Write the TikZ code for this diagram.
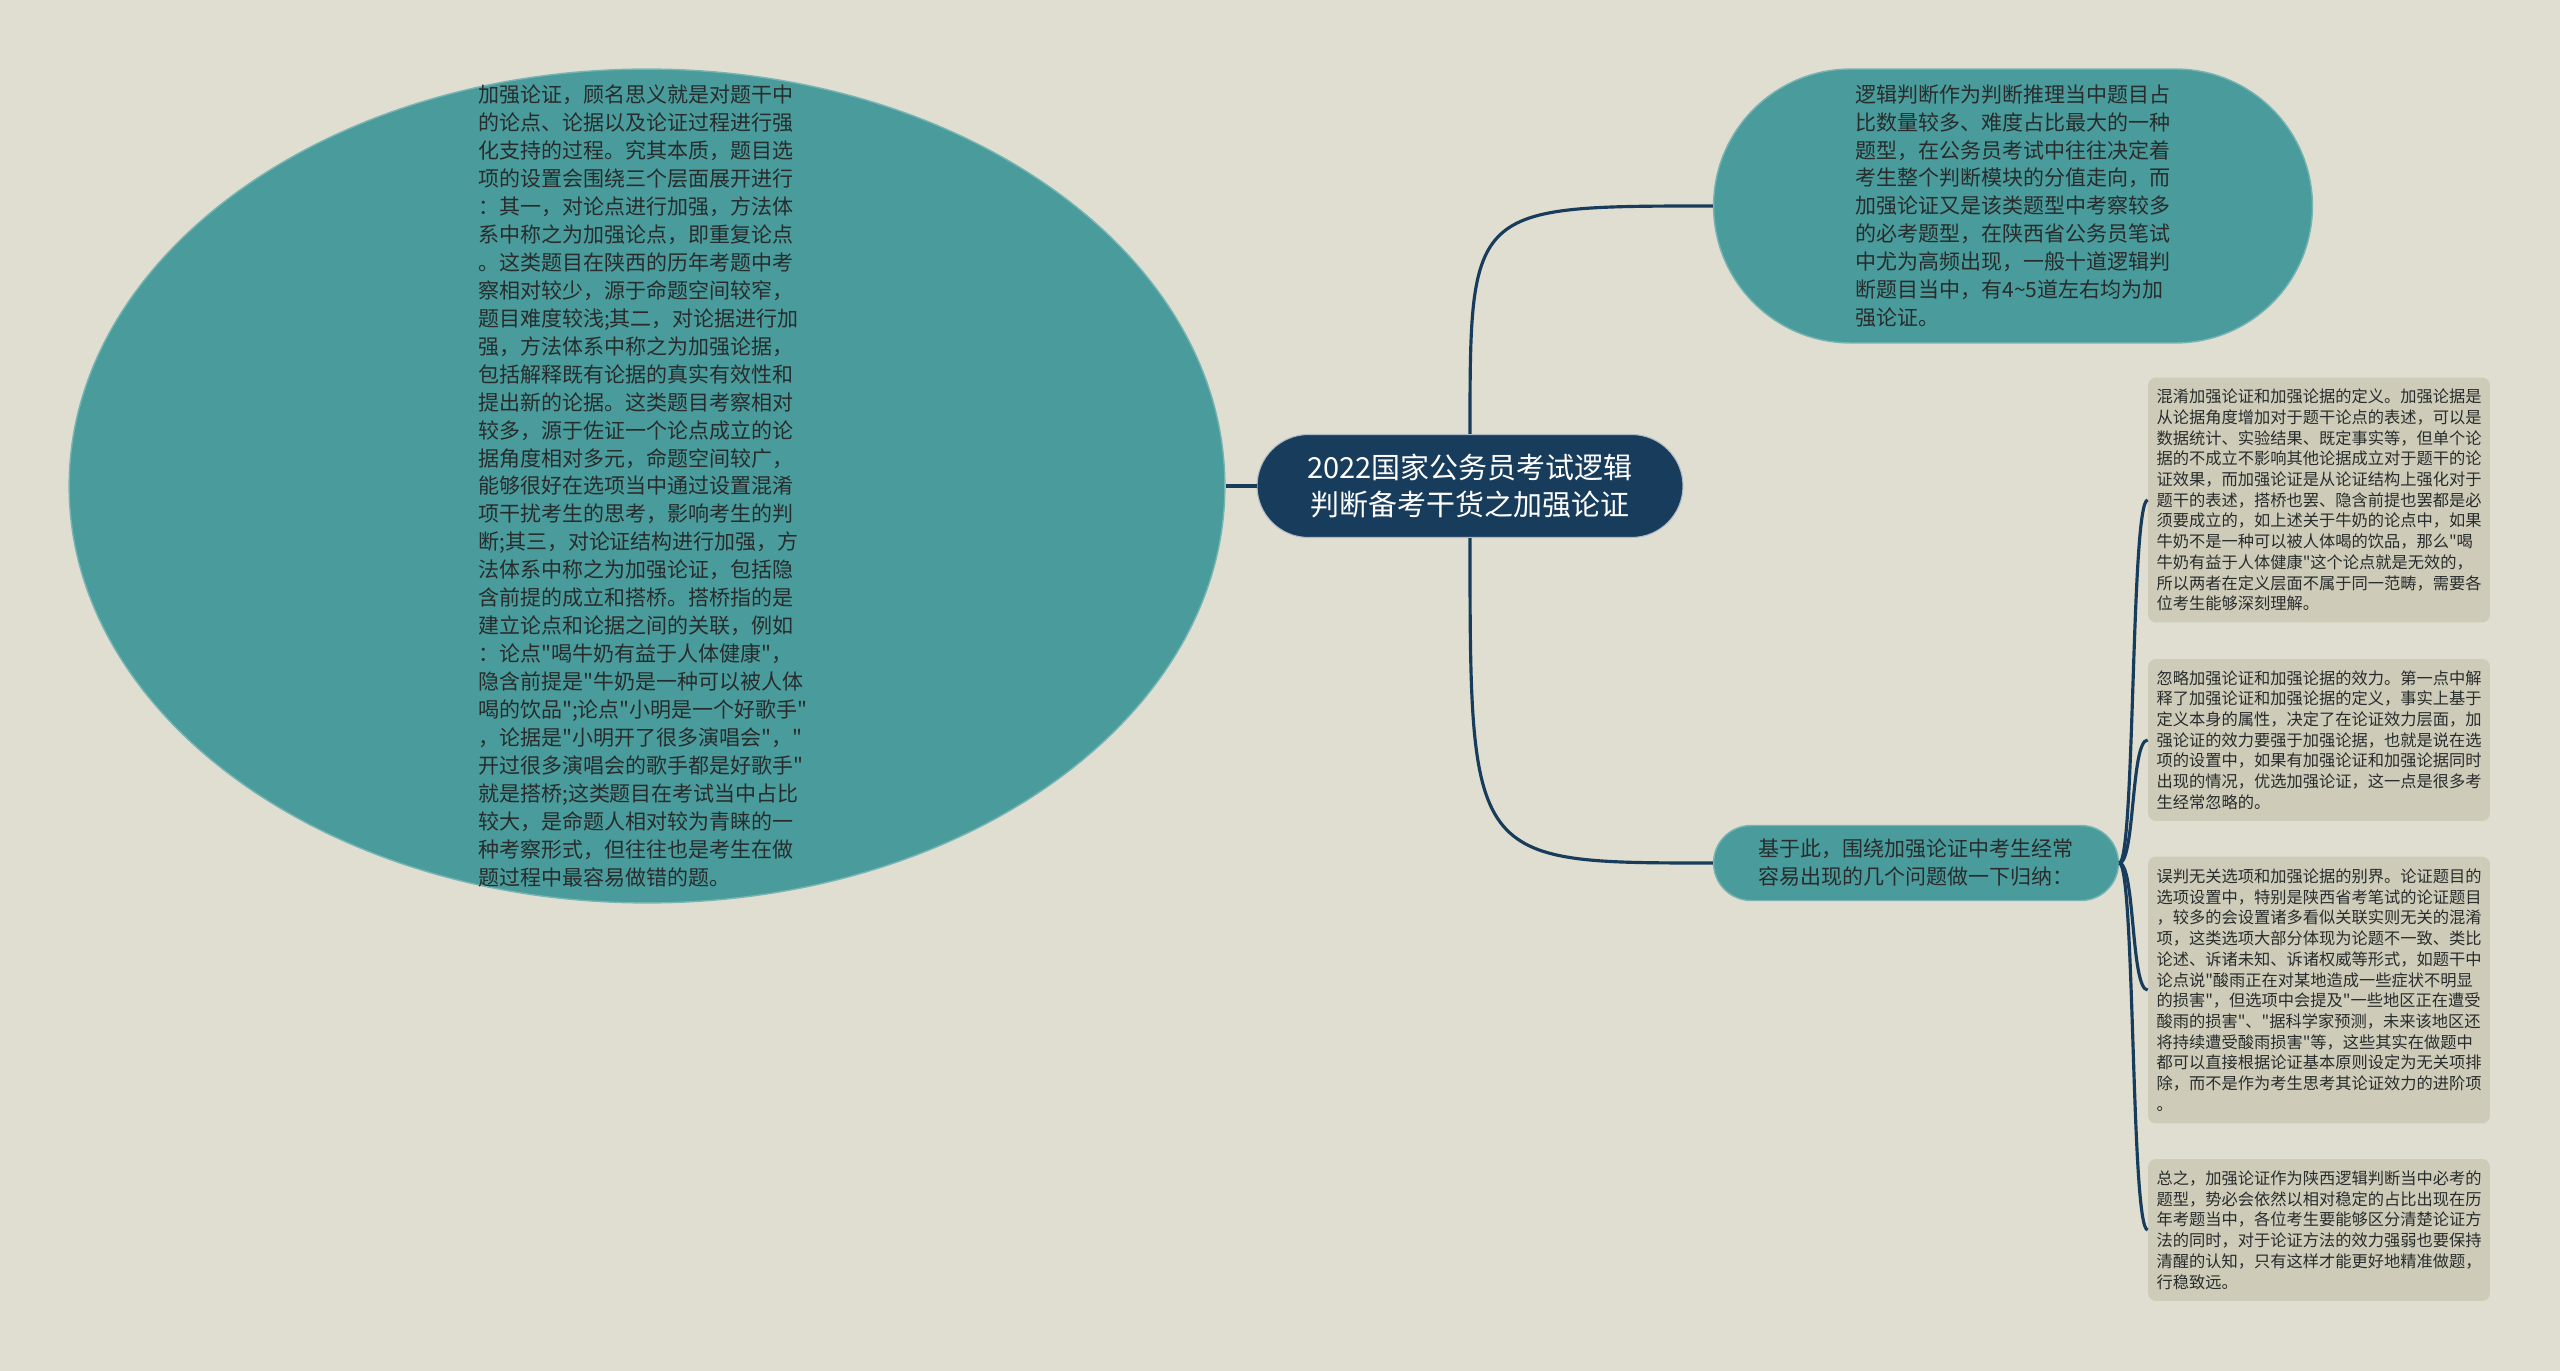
\documentclass[tikz,border=0pt]{standalone}
\usepackage{fontspec}
\setmainfont{Noto Sans CJK SC}[Ligatures=TeXOff]
\usepackage{xcolor}
\usepackage{tikz}
\usetikzlibrary{shapes.geometric}

\definecolor{bgbeige}{RGB}{224,222,208}
\definecolor{tealnode}{RGB}{74,155,155}
\definecolor{navyline}{RGB}{24,60,92}
\definecolor{notebox}{RGB}{206,204,185}
\definecolor{inktext}{RGB}{40,44,44}

\begin{document}
\begin{tikzpicture}[x=0.02cm,y=-0.02cm,
  topic/.style={rectangle,rounded corners=1.03cm,fill=navyline,draw=white!65!navyline,line width=0.6pt,
    text=white,minimum width=8.52cm,minimum height=2.06cm,align=center,font=\fontsize{16.5}{21}\selectfont},
  bubble/.style={rectangle,fill=tealnode,draw=white!25!tealnode,line width=0.8pt,text=inktext,
    align=left,font=\fontsize{11.95}{15.9}\selectfont},
  note/.style={rectangle,rounded corners=0.16cm,fill=notebox,text=inktext,minimum width=6.84cm,
    align=left,font=\fontsize{9.25}{11.8}\selectfont},
  link/.style={draw=navyline,line width=1.8pt}]
\useasboundingbox (0,0) rectangle (2560,1371);
\fill[bgbeige] (0,0) rectangle (2560,1371);

% centre and main branches
\node[ellipse,fill=tealnode,draw=white!25!tealnode,line width=0.8pt,inner sep=0pt,
  minimum width=23.12cm,minimum height=16.68cm] (left) at (647,486) {};
\node[text=inktext,align=left,font=\fontsize{11.95}{15.9}\selectfont] (lefttext) at (643,486) {%
加强论证，顾名思义就是对题干中\\
的论点、论据以及论证过程进行强\\
化支持的过程。究其本质，题目选\\
项的设置会围绕三个层面展开进行\\
：其一，对论点进行加强，方法体\\
系中称之为加强论点，即重复论点\\
。这类题目在陕西的历年考题中考\\
察相对较少，源于命题空间较窄，\\
题目难度较浅;其二，对论据进行加\\
强，方法体系中称之为加强论据，\\
包括解释既有论据的真实有效性和\\
提出新的论据。这类题目考察相对\\
较多，源于佐证一个论点成立的论\\
据角度相对多元，命题空间较广，\\
能够很好在选项当中通过设置混淆\\
项干扰考生的思考，影响考生的判\\
断;其三，对论证结构进行加强，方\\
法体系中称之为加强论证，包括隐\\
含前提的成立和搭桥。搭桥指的是\\
建立论点和论据之间的关联，例如\\
：论点"喝牛奶有益于人体健康"，\\
隐含前提是"牛奶是一种可以被人体\\
喝的饮品";论点"小明是一个好歌手"\\
，论据是"小明开了很多演唱会"，"\\
开过很多演唱会的歌手都是好歌手"\\
就是搭桥;这类题目在考试当中占比\\
较大，是命题人相对较为青睐的一\\
种考察形式，但往往也是考生在做\\
题过程中最容易做错的题。};

\node[topic] (hub) at (1470,486) {2022国家公务员考试逻辑\\判断备考干货之加强论证};

\node[bubble,rounded corners=2.74cm,minimum width=11.98cm,minimum height=5.48cm] (intro) at (2013,206) {%
逻辑判断作为判断推理当中题目占\\
比数量较多、难度占比最大的一种\\
题型，在公务员考试中往往决定着\\
考生整个判断模块的分值走向，而\\
加强论证又是该类题型中考察较多\\
的必考题型，在陕西省公务员笔试\\
中尤为高频出现，一般十道逻辑判\\
断题目当中，有4\textasciitilde 5道左右均为加\\
强论证。};

\node[bubble,rounded corners=0.75cm,minimum width=8.1cm,minimum height=1.5cm] (sum) at (1916,863) {%
基于此，围绕加强论证中考生经常\\
容易出现的几个问题做一下归纳：};

% notes on the right
\node[note,minimum height=4.9cm] (n1) at (2319,500) {%
混淆加强论证和加强论据的定义。加强论据是\\
从论据角度增加对于题干论点的表述，可以是\\
数据统计、实验结果、既定事实等，但单个论\\
据的不成立不影响其他论据成立对于题干的论\\
证效果，而加强论证是从论证结构上强化对于\\
题干的表述，搭桥也罢、隐含前提也罢都是必\\
须要成立的，如上述关于牛奶的论点中，如果\\
牛奶不是一种可以被人体喝的饮品，那么"喝\\
牛奶有益于人体健康"这个论点就是无效的，\\
所以两者在定义层面不属于同一范畴，需要各\\
位考生能够深刻理解。};
\node[note,minimum height=3.24cm] (n2) at (2319,740) {%
忽略加强论证和加强论据的效力。第一点中解\\
释了加强论证和加强论据的定义，事实上基于\\
定义本身的属性，决定了在论证效力层面，加\\
强论证的效力要强于加强论据，也就是说在选\\
项的设置中，如果有加强论证和加强论据同时\\
出现的情况，优选加强论证，这一点是很多考\\
生经常忽略的。};
\node[note,minimum height=5.34cm] (n3) at (2319,990) {%
误判无关选项和加强论据的别界。论证题目的\\
选项设置中，特别是陕西省考笔试的论证题目\\
，较多的会设置诸多看似关联实则无关的混淆\\
项，这类选项大部分体现为论题不一致、类比\\
论述、诉诸未知、诉诸权威等形式，如题干中\\
论点说"酸雨正在对某地造成一些症状不明显\\
的损害"，但选项中会提及"一些地区正在遭受\\
酸雨的损害"、"据科学家预测，未来该地区还\\
将持续遭受酸雨损害"等，这些其实在做题中\\
都可以直接根据论证基本原则设定为无关项排\\
除，而不是作为考生思考其论证效力的进阶项\\
。};
\node[note,minimum height=2.84cm] (n4) at (2319,1230) {%
总之，加强论证作为陕西逻辑判断当中必考的\\
题型，势必会依然以相对稳定的占比出现在历\\
年考题当中，各位考生要能够区分清楚论证方\\
法的同时，对于论证方法的效力强弱也要保持\\
清醒的认知，只有这样才能更好地精准做题，\\
行稳致远。};

% connectors
\draw[link] (hub.west) -- (left.east);
\draw[link] (hub.north) .. controls (hub.north |- intro.west) .. (intro.west);
\draw[link] (hub.south) .. controls (hub.south |- sum.west) .. (sum.west);
\foreach \n in {n1,n2,n3,n4}
  \draw[link] (sum.east) .. controls +(16,0) and +(-17,0) .. (\n.west);
\end{tikzpicture}
\end{document}
